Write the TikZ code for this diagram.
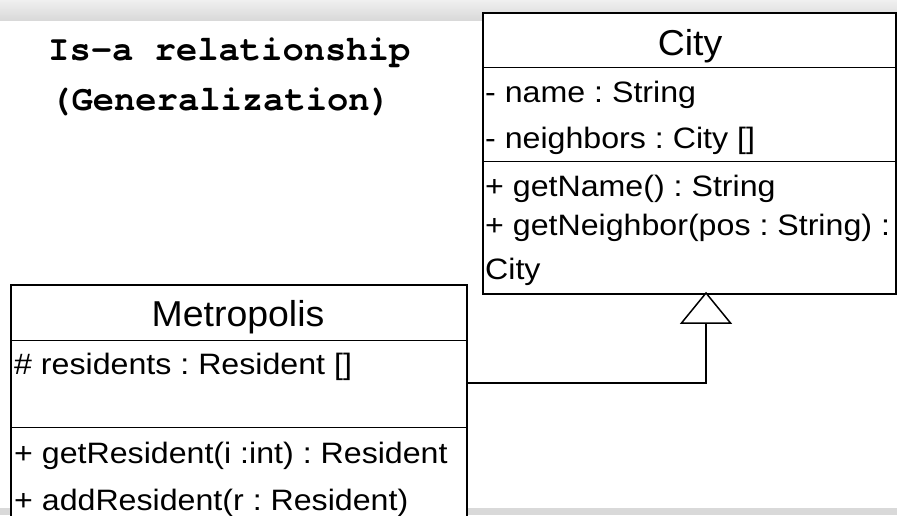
\documentclass[tikz,border=0pt]{standalone}
\usepackage{fontspec}
\setmainfont{Liberation Sans}
\newfontfamily\titlemono{texgyrecursor}[Extension=.otf, UprightFont=*-regular, BoldFont=*-bold]
\newfontfamily\memberfont{Liberation Sans}[FakeStretch=1.09]
\newfontfamily\namefont{Liberation Sans}[FakeStretch=1.04]
\frenchspacing
\begin{document}
\begin{tikzpicture}[x=1pt,y=-1pt,
  umlbox/.style={draw=black, line width=2.2pt, fill=white, rectangle, inner sep=0pt, anchor=north west},
  divider/.style={line width=1pt, draw=black},
  member/.style={anchor=base west, inner sep=0pt, font=\memberfont\fontsize{29.5}{34}\selectfont},
  classname/.style={anchor=base, inner sep=0pt, font=\namefont\fontsize{36}{42}\selectfont},
  heading/.style={anchor=base west, inner sep=0pt, font=\titlemono\bfseries\fontsize{35.5}{50}\selectfont},
  link/.style={draw=black, line width=1.5pt},
  gentip/.style={draw=black, line width=1.5pt, fill=white, line join=miter}
]
\useasboundingbox (0,0) rectangle (897,515);
\clip (0,0) rectangle (897,515);
\fill[white] (0,0) rectangle (897,515);
\shade[top color=gray!12, bottom color=gray!30] (0,0) rectangle (897,20);
\fill[gray!30] (0,508) rectangle (897,515);

% heading
\node[heading] (title1) at (48,60) {Is-a relationship};
\node[heading] (title2) at (50,110) {(Generalization)};

% City class
\node[umlbox, minimum width=413pt, minimum height=281pt] (city) at (482,12) {};
\draw[divider] (482,67) -- (895,67);
\draw[divider] (482,161) -- (895,161);
\node[classname] (cityname) at (690,55) {City};
\node[member] (cattr1) at (485,102) {- name : String};
\node[member] (cattr2) at (485,148) {- neighbors : City []};
\node[member] (cop1) at (485,196) {+ getName() : String};
\node[member] (cop2) at (485,235) {+ getNeighbor(pos : String) :};
\node[member] (cop2b) at (485,279) {City};

% Metropolis class
\node[umlbox, minimum width=455.5pt, minimum height=260pt] (metro) at (10,284) {};
\draw[divider] (10,340) -- (465.5,340);
\draw[divider] (10,427) -- (465.5,427);
\node[classname] (metroname) at (238,326) {Metropolis};
\node[member] (mattr1) at (14,374) {\# residents : Resident []};
\node[member] (mop1) at (14,463) {+ getResident(i :int) : Resident};
\node[member] (mop2) at (14,510) {+ addResident(r : Resident)};

% generalization
\coordinate (apex) at (706,293);
\coordinate (tipbase) at (706,323);
\coordinate (bend) at (706,383);
\draw[link] (metro.east |- bend) -- (bend) -- (tipbase);
\draw[gentip] (apex) -- ++(-24.5,30) -- ++(49,0) -- cycle;
\end{tikzpicture}
\end{document}
